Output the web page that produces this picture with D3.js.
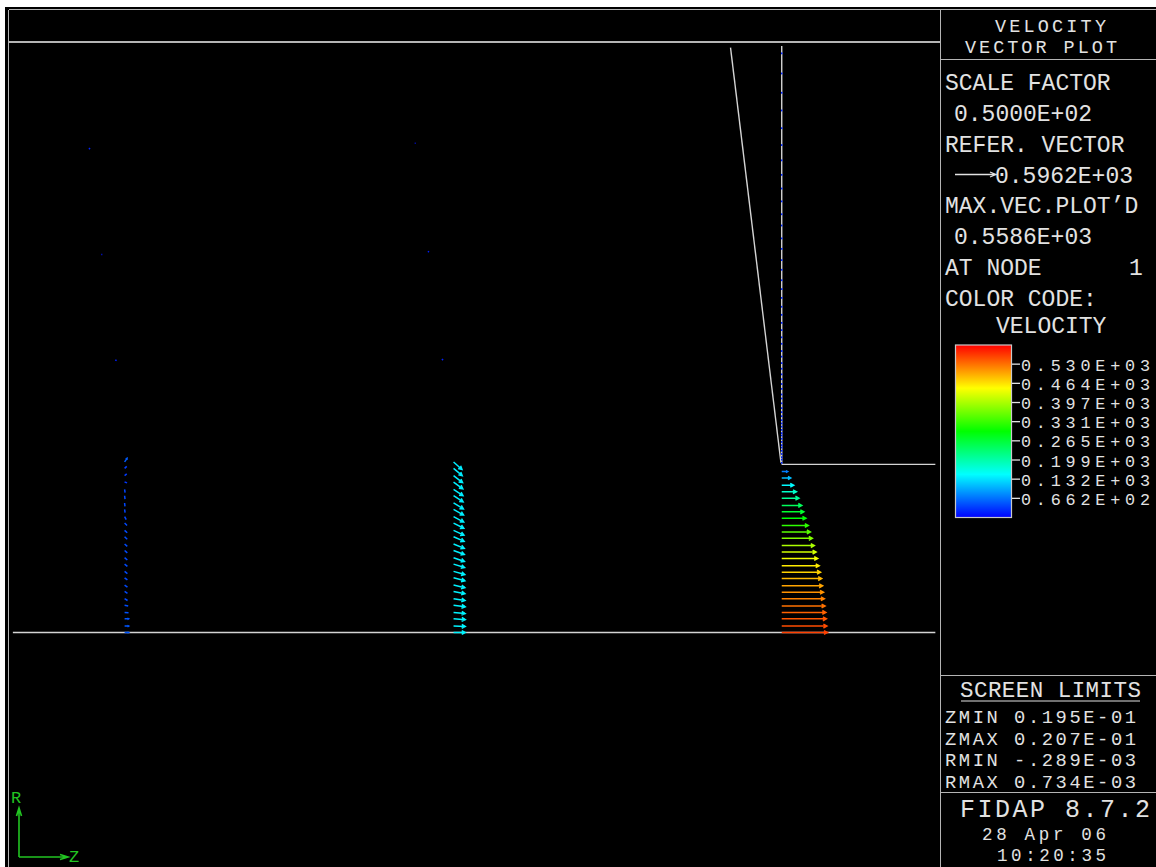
<!DOCTYPE html>
<html>
<head>
<meta charset="utf-8">
<script src="https://cdn.jsdelivr.net/npm/d3@7"></script>
<style>
  html, body { margin: 0; padding: 0; background: #fff; }
  svg { display: block; }
  text { font-family: "Liberation Mono", "DejaVu Sans Mono", monospace; fill: #e2e2e2; }
</style>
</head>
<body>
<svg id="chart" width="1156" height="867"></svg>
<script>
// screen limits, in micrometres (ZMIN 0.195E-01 .. ZMAX 0.207E-01, RMIN -.289E-03 .. RMAX 0.734E-03)
const zLimits = [19500, 20700];
const rLimits = [-289, 734];

// boundary polylines [z, r]
const axisLine = [[19505, 0], [20694, 0]];
const stepLine = [[20496, 209], [20694, 209]];
const wallLine = [[20430, 727], [20495, 211]];
const exitLine = [[20496, 729], [20496, 209]];

// node rows of the lower channel
const rowsLeft = [212, 204, 195, 187, 178, 170, 161, 153, 144, 136, 127, 119, 110, 102, 93, 85, 76, 68, 59, 51, 42, 34, 25, 17, 8, 0];
const rowsRight = [200, 192, 183, 175, 167, 158, 150, 142, 133, 125, 117, 108, 100, 92, 83, 75, 67, 58, 50, 42, 33, 25, 17, 8, 0];

// column 1 (slow, blue)
const col1Z = 19649;
const col1Vz = [30, 26, 26, 30, 6, 5, 5, 6, 20, 30, 32, 32, 33, 33, 33, 34, 34, 34, 35, 35, 36, 44, 48, 49, 50, 50];
const col1Vr = [44, 24, 22, -10, -40, -42, -42, -40, -36, -30, -30, -30, -29, -29, -28, -28, -27, -26, -25, -24, -22, -10, -4, 0, 0, 0];

// column 2 (cyan)
const col2Z = 20073;
const col2Vz = [103, 106, 110, 113, 115, 117, 120, 122, 124, 125, 127, 129, 131, 132, 133, 135, 137, 138, 138, 139, 140, 142, 142, 143, 143, 143];
const col2Vr = [-92, -89, -86, -82, -78, -75, -72, -69, -66, -63, -59, -56, -53, -49, -46, -42, -39, -36, -32, -27, -23, -20, -15, -10, -5, 0];

// column 3 (exit plane, full profile)
const col3Z = 20496;
const col3Vz = [73, 110, 147, 180, 210, 245, 270, 296, 325, 350, 374, 398, 420, 440, 458, 474, 488, 500, 511, 521, 530, 539, 546, 552, 559];
const col3Vr = [0, 0, 0, 0, 0, 0, 0, 0, 0, 0, 0, 0, 0, 0, 0, 0, 0, 0, 0, 0, 0, 0, 0, 0, 0];

// sparse nodes in the upper (converging) region
const upperZ = [19603, 19619, 19637, 20023, 20040, 20058];
const upperR = [602, 470, 339, 608, 474, 340];
const upperVz = [14, 12, 16, 10, 12, 14];
const upperVr = [-12, 0, -10, 0, -12, -14];

// nodes on the exit plane above the step
const exitR = [721, 696, 672, 650, 628, 607, 588, 570, 553, 537, 521, 507, 491, 478, 464, 452, 439, 428, 417, 406,
  396, 386, 377, 368, 360, 351, 344, 336, 329, 322, 316, 310, 304, 297, 292, 286, 280, 275, 270, 265,
  261, 257, 253, 249, 246, 242, 238, 234, 231, 227, 223, 219, 216, 212];

// colour legend
const velMax = 596.2;
const legendTicks = [66.2, 132.5, 198.7, 265.0, 331.2, 397.4, 463.7, 530.0];
const legendLabels = ["0.662E+02", "0.132E+03", "0.199E+03", "0.265E+03", "0.331E+03", "0.397E+03", "0.464E+03", "0.530E+03"];

const svg = d3.select("#chart");
const gray = "#b4b4b4";
const lineGray = "#d4d4d4";

svg.append("rect").attr("x", 5).attr("y", 7).attr("width", 1151).attr("height", 860).attr("fill", "#000");

// frame
const frame = svg.append("g").attr("stroke", gray).attr("stroke-width", 1.6).attr("shape-rendering", "crispEdges");
[[8.5, 9.5, 1156, 9.5], [8.5, 9.5, 8.5, 867], [8.5, 42, 940.5, 42], [940.5, 9.5, 940.5, 867],
 [940.5, 59.5, 1156, 59.5], [940.5, 675.5, 1156, 675.5], [940.5, 792.5, 1156, 792.5]]
  .forEach(d => frame.append("line").attr("x1", d[0]).attr("y1", d[1]).attr("x2", d[2]).attr("y2", d[3]));

const x = d3.scaleLinear().domain(zLimits).range([9, 940]);
const y = d3.scaleLinear().domain(rLimits).range([865, 42]);
const len = d3.scaleLinear().domain([0, 558.6]).range([0, 45.7]);
const hue = d3.scaleLinear().domain([0, velMax]).range([240, 0]).clamp(true);
const color = v => d3.hsl(hue(v), 1, 0.5).formatHex();

// geometry
const line = d3.line().x(d => x(d[0])).y(d => y(d[1]));
const geo = svg.append("g").attr("fill", "none").attr("stroke", lineGray).attr("stroke-width", 1.4);
[axisLine, stepLine, wallLine, exitLine].forEach(l => geo.append("path").attr("d", line(l)));

// vectors
function vectorPath (d) {
  const x0 = x(d.z), y0 = y(d.r);
  const dx = len(d.vz), dy = -len(d.vr);
  const x1 = x0 + dx, y1 = y0 + dy;
  const L = Math.hypot(dx, dy);
  let p = "M" + x0 + "," + y0 + "L" + x1 + "," + y1;
  if (L >= 4) {
    const a = Math.atan2(dy, dx), h = Math.min(4, L * 0.35);
    p += "M" + (x1 - h * Math.cos(a - 0.5)) + "," + (y1 - h * Math.sin(a - 0.5)) +
      "L" + x1 + "," + y1 +
      "L" + (x1 - h * Math.cos(a + 0.5)) + "," + (y1 - h * Math.sin(a + 0.5));
  }
  return p;
}

const nodes = [];
rowsLeft.forEach((r, i) => nodes.push({ z: col1Z, r: r, vz: col1Vz[i], vr: col1Vr[i] }));
rowsLeft.forEach((r, i) => nodes.push({ z: col2Z, r: r, vz: col2Vz[i], vr: col2Vr[i] }));
rowsRight.forEach((r, i) => nodes.push({ z: col3Z, r: r, vz: col3Vz[i], vr: col3Vr[i] }));
upperZ.forEach((z, i) => nodes.push({ z: z, r: upperR[i], vz: upperVz[i], vr: upperVr[i] }));
exitR.forEach(r => nodes.push({ z: col3Z, r: r, vz: 0, vr: -22 }));

svg.append("g").attr("fill", "none").attr("stroke-width", 1.5)
  .selectAll("path")
  .data(nodes)
  .enter().append("path")
  .attr("d", vectorPath)
  .attr("stroke", d => color(Math.hypot(d.vz, d.vr)));

// right panel texts (w = forced text length where the font had to shrink)
const panel = [
  { t: "VELOCITY", x: 995, y: 32, s: 18.5, w: 111 },
  { t: "VECTOR PLOT", x: 965, y: 53, s: 18.5, w: 152 },
  { t: "SCALE FACTOR", x: 945, y: 90, s: 23 },
  { t: "0.5000E+02", x: 954, y: 121, s: 23 },
  { t: "REFER. VECTOR", x: 945, y: 152, s: 23 },
  { t: "0.5962E+03", x: 995, y: 183, s: 23 },
  { t: "MAX.VEC.PLOT\u2019D", x: 945, y: 213, s: 23 },
  { t: "0.5586E+03", x: 954, y: 244, s: 23 },
  { t: "AT NODE", x: 945, y: 275, s: 23 },
  { t: "1", x: 1129, y: 275, s: 23 },
  { t: "COLOR CODE:", x: 945, y: 306, s: 23 },
  { t: "VELOCITY", x: 996, y: 333, s: 23 },
  { t: "SCREEN LIMITS", x: 960, y: 697, s: 22.5, w: 181 },
  { t: "ZMIN 0.195E-01", x: 945, y: 723, s: 18.8, w: 191 },
  { t: "ZMAX 0.207E-01", x: 945, y: 744.5, s: 18.8, w: 191 },
  { t: "RMIN -.289E-03", x: 945, y: 766, s: 18.8, w: 191 },
  { t: "RMAX 0.734E-03", x: 945, y: 787.5, s: 18.8, w: 191 },
  { t: "FIDAP 8.7.2", x: 960, y: 817, s: 25, w: 190 },
  { t: "28 Apr 06", x: 982, y: 839.5, s: 17.5, w: 124 },
  { t: "10:20:35", x: 997, y: 860.5, s: 17.5, w: 109 }
];
const pt = svg.append("g").selectAll("text")
  .data(panel)
  .enter().append("text")
  .attr("x", d => d.x).attr("y", d => d.y)
  .style("font-size", d => d.s + "px")
  .text(d => d.t);
pt.filter(d => d.w).attr("textLength", d => d.w).attr("lengthAdjust", "spacing");

// underline + reference arrow
svg.append("line").attr("x1", 961).attr("x2", 1140).attr("y1", 701).attr("y2", 701)
  .attr("stroke", "#e2e2e2").attr("stroke-width", 1.2);
svg.append("path").attr("d", "M955,174.5L995,174.5M990,172L996,174.5L990,177")
  .attr("fill", "none").attr("stroke", "#e2e2e2").attr("stroke-width", 1.3);

// colour bar
const grad = svg.append("defs").append("linearGradient").attr("id", "velGrad")
  .attr("x1", 0).attr("y1", 0).attr("x2", 0).attr("y2", 1);
d3.range(0, 1.0001, 0.05).forEach(o => {
  grad.append("stop").attr("offset", o).attr("stop-color", color(velMax * (1 - o)));
});
const legendY = d3.scaleLinear().domain([0, velMax]).range([517.5, 345]);
svg.append("rect").attr("x", 955.5).attr("y", legendY(velMax)).attr("width", 56)
  .attr("height", legendY(0) - legendY(velMax))
  .attr("fill", "url(#velGrad)").attr("stroke", "#c8c8c8").attr("stroke-width", 1.2);

const leg = svg.append("g").selectAll("g")
  .data(legendTicks)
  .enter().append("g")
  .attr("transform", d => "translate(0," + legendY(d) + ")");
leg.append("line").attr("x1", 1012).attr("x2", 1020).attr("stroke", "#e2e2e2").attr("stroke-width", 1.3);
leg.append("text").attr("x", 1021).attr("y", 6.5)
  .style("font-size", "16.8px")
  .attr("textLength", 129).attr("lengthAdjust", "spacing")
  .text((d, i) => legendLabels[i]);

// axis triad
const green = "#22c422";
const triad = svg.append("g").attr("stroke", green).attr("fill", "none").attr("stroke-width", 1.6);
triad.append("path").attr("d", "M19,857L19,809M16.5,816L19,808L21.5,816");
triad.append("path").attr("d", "M19,857L67,857M60,854.5L68,857L60,859.5");
svg.append("text").attr("x", 11).attr("y", 803).style("font-size", "17px").style("fill", green).text("R");
svg.append("text").attr("x", 69).attr("y", 862).style("font-size", "17px").style("fill", green).text("Z");
</script>
</body>
</html>
